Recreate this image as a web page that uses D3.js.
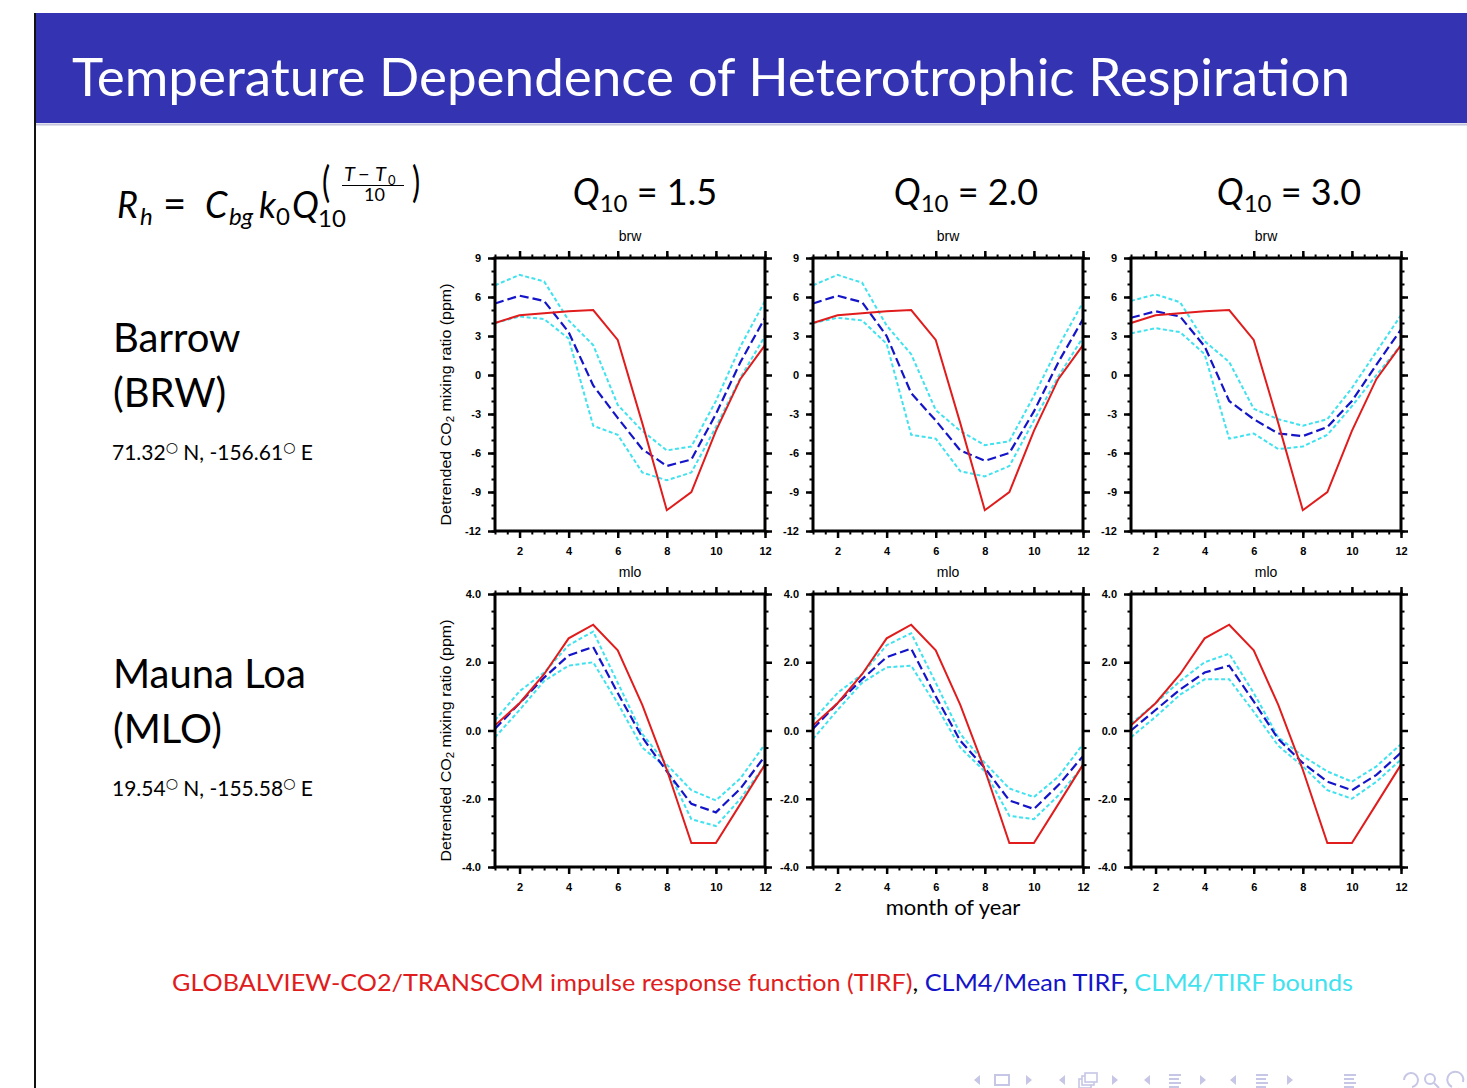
<!DOCTYPE html>
<html>
<head>
<meta charset="utf-8">
<script src="https://cdn.jsdelivr.net/npm/d3@7"></script>
<style>
  body { margin: 0; background: #fff; }
  svg { display: block; }
  .slide { font-family: Lato, "Open Sans", sans-serif; }
  .tick text { font-family: "Liberation Sans", Arial, sans-serif; font-weight: bold; font-size: 11px; fill: #000; }
</style>
</head>
<body>
<svg id="chart" width="1467" height="1088"></svg>
<script>
// months on the x axis
const months = [1, 2, 3, 4, 5, 6, 7, 8, 9, 10, 11, 12];
const q10Labels = ["1.5", "2.0", "3.0"];
const stationTitles = ["brw", "mlo"];

// Barrow: observed TIRF (same in every column) and CLM4 mean / bounds per Q10 column
const brwObs = [4.0, 4.6, 4.75, 4.9, 5.0, 2.7, -3.7, -10.4, -9.0, -4.3, -0.3, 2.3];
const brwMean = [
  [5.5, 6.1, 5.7, 3.3, -0.8, -3.3, -5.7, -7.0, -6.5, -3.0, 1.0, 4.4],
  [5.5, 6.1, 5.6, 3.0, -1.4, -3.5, -5.8, -6.6, -6.0, -2.8, 1.0, 4.3],
  [4.4, 4.9, 4.5, 2.2, -2.0, -3.4, -4.5, -4.7, -4.0, -2.0, 0.8, 3.5]
];
const brwUpper = [
  [6.9, 7.7, 7.2, 4.2, 2.3, -2.3, -4.3, -5.8, -5.5, -2.0, 2.2, 5.7],
  [6.9, 7.7, 7.1, 3.8, 1.6, -2.7, -4.3, -5.4, -5.1, -1.6, 2.2, 5.6],
  [5.7, 6.2, 5.6, 2.6, 1.0, -2.6, -3.4, -3.9, -3.4, -1.0, 1.8, 4.6]
];
const brwLower = [
  [4.0, 4.5, 4.3, 2.8, -3.9, -4.6, -7.5, -8.1, -7.5, -4.0, -0.2, 3.0],
  [4.0, 4.4, 4.2, 2.4, -4.6, -4.9, -7.4, -7.8, -7.0, -3.5, -0.1, 2.9],
  [3.2, 3.6, 3.3, 1.6, -4.9, -4.5, -5.7, -5.5, -4.6, -2.4, 0.0, 2.3]
];

// Mauna Loa
const mloObs = [0.15, 0.8, 1.65, 2.7, 3.1, 2.35, 0.75, -1.15, -3.3, -3.3, -2.15, -1.0];
const mloMean = [
  [0.05, 0.8, 1.55, 2.2, 2.45, 1.1, -0.2, -1.2, -2.15, -2.4, -1.7, -0.75],
  [0.05, 0.8, 1.5, 2.15, 2.4, 1.0, -0.3, -1.1, -2.05, -2.3, -1.6, -0.75],
  [0.0, 0.6, 1.2, 1.7, 1.9, 0.85, -0.25, -0.95, -1.5, -1.75, -1.3, -0.65]
];
const mloUpper = [
  [0.3, 1.15, 1.7, 2.5, 2.9, 1.4, -0.1, -1.0, -1.75, -2.05, -1.4, -0.4],
  [0.3, 1.1, 1.65, 2.5, 2.85, 1.4, -0.1, -0.95, -1.7, -1.95, -1.35, -0.4],
  [0.2, 0.8, 1.45, 2.0, 2.25, 1.1, -0.2, -0.75, -1.2, -1.5, -1.05, -0.4]
];
const mloLower = [
  [-0.2, 0.6, 1.45, 1.9, 2.0, 0.8, -0.5, -1.1, -2.6, -2.8, -2.0, -1.0],
  [-0.25, 0.6, 1.4, 1.85, 1.9, 0.75, -0.5, -1.2, -2.5, -2.6, -1.9, -1.05],
  [-0.2, 0.4, 1.05, 1.5, 1.5, 0.55, -0.45, -1.05, -1.75, -2.0, -1.5, -0.85]
];

// tick values
const xMajor = [2, 4, 6, 8, 10, 12];
const brwTicks = [9, 6, 3, 0, -3, -6, -9, -12];
const mloTicks = [4, 2, 0, -2, -4];

const colors = { obs: "#e01c1c", mean: "#1414c8", bounds: "#3fe2ee" };

// plain hyphen for negatives, like the original plots
const fmtInt = d => String(d);
const fmtOne = d => d.toFixed(1);

const svg = d3.select("#chart");

// ---- slide frame ----
svg.append("line").attr("x1", 35).attr("x2", 35).attr("y1", 13).attr("y2", 1088)
  .attr("stroke", "#111").attr("stroke-width", 2);
svg.append("rect").attr("x", 36).attr("y", 13).attr("width", 1431).attr("height", 110)
  .attr("fill", "#3434b2");
svg.append("line").attr("x1", 36).attr("x2", 1467).attr("y1", 124.5).attr("y2", 124.5)
  .attr("stroke", "#c4c4dc").attr("stroke-width", 2);

const slide = svg.append("g").attr("class", "slide");

slide.append("text").attr("x", 72).attr("y", 96)
  .attr("fill", "#fff").style("font-size", "52px")
  .attr("textLength", 1278).attr("lengthAdjust", "spacingAndGlyphs")
  .text("Temperature Dependence of Heterotrophic Respiration");

// ---- formula R_h = C_bg k_0 Q_10^((T-T0)/10) ----
const f = slide.append("g").attr("fill", "#000");
function piece(x, y, size, txt, italic) {
  return f.append("text").attr("x", x).attr("y", y).style("font-size", size + "px")
    .style("font-style", italic ? "italic" : "normal").text(txt);
}
piece(117, 218, 36, "R", true);
piece(140, 225, 24, "h", true);
piece(163, 218, 40, "=", false);
piece(205, 218, 36, "C", true);
piece(229, 225, 24, "bg", true);
piece(259, 218, 36, "k", true);
piece(276, 225, 24, "0", false);
piece(292, 218, 36, "Q", true);
piece(318, 227, 24, "10", false);
piece(322, 197, 36, "(", false).attr("transform", "translate(322,197) scale(0.85,1.2) translate(-322,-197)");
piece(344, 181, 20, "T", true);
piece(358, 181, 20, "\u2212", false);
piece(375, 181, 20, "T", true);
piece(388, 185, 13, "0", false);
f.append("line").attr("x1", 342).attr("x2", 404).attr("y1", 185.5).attr("y2", 185.5)
  .attr("stroke", "#000").attr("stroke-width", 1.2);
piece(364, 201, 18, "10", false);
piece(412, 197, 36, ")", false).attr("transform", "translate(412,197) scale(0.85,1.2) translate(-412,-197)");

// ---- column headers ----
const colCenters = [645, 966, 1289];
q10Labels.forEach((q, i) => {
  const t = slide.append("text").attr("x", colCenters[i]).attr("y", 205)
    .attr("text-anchor", "middle").style("font-size", "36px");
  t.append("tspan").style("font-style", "italic").text("Q");
  t.append("tspan").style("font-size", "24px").attr("dy", 7).text("10");
  t.append("tspan").attr("dy", -7).text(" = " + q);
});

// ---- station labels ----
function station(name, code, coord, y0) {
  slide.append("text").attr("x", 113).attr("y", y0).style("font-size", "40px").text(name);
  slide.append("text").attr("x", 113).attr("y", y0 + 55).style("font-size", "40px").text(code);
  const c = slide.append("text").attr("x", 112).attr("y", y0 + 108).style("font-size", "21px");
  c.append("tspan").text(coord[0]);
  c.append("tspan").attr("dy", -8).style("font-size", "14px").style("font-family", "DejaVu Sans").text("\u25CB");
  c.append("tspan").attr("dy", 8).text(" N, " + coord[1]);
  c.append("tspan").attr("dy", -8).style("font-size", "14px").style("font-family", "DejaVu Sans").text("\u25CB");
  c.append("tspan").attr("dy", 8).text(" E");
}
station("Barrow", "(BRW)", ["71.32", "-156.61"], 352);
station("Mauna Loa", "(MLO)", ["19.54", "-155.58"], 688);

// ---- panels ----
const panelW = 270, panelH = 273;
const panelLeft = [495, 813, 1131];
const panelTop = [258, 594];

function drawPanel(left, top, obs, mean, upper, lower, yDomain, yTicks, yMinor, fmt, title, yTitle) {
  const g = svg.append("g").attr("transform", `translate(${left},${top})`);
  const x = d3.scaleLinear().domain([1, 12]).range([0, panelW]);
  const y = d3.scaleLinear().domain(yDomain).range([panelH, 0]);
  const xMinor = d3.range(1, 12.01, 0.5);
  const yMinorVals = d3.range(yDomain[0], yDomain[1] + 1e-6, yMinor);

  const line = d3.line().x((d, i) => x(months[i])).y(d => y(d));

  // series
  [upper, lower].forEach(s => {
    g.append("path").attr("d", line(s)).attr("fill", "none")
      .attr("stroke", colors.bounds).attr("stroke-width", 2).attr("stroke-dasharray", "4,2.5");
  });
  g.append("path").attr("d", line(mean)).attr("fill", "none")
    .attr("stroke", colors.mean).attr("stroke-width", 2.2).attr("stroke-dasharray", "9,4");
  g.append("path").attr("d", line(obs)).attr("fill", "none")
    .attr("stroke", colors.obs).attr("stroke-width", 2);

  // axes on all four sides, outward ticks; labels only bottom and left
  const sides = [
    { mk: d3.axisBottom, sc: x, tr: `translate(0,${panelH})`, vals: xMajor, minor: xMinor, fmt: fmtInt, pad: 9 },
    { mk: d3.axisTop, sc: x, tr: "translate(0,0)", vals: xMajor, minor: xMinor, fmt: null, pad: 7 },
    { mk: d3.axisLeft, sc: y, tr: "translate(0,0)", vals: yTicks, minor: yMinorVals, fmt: fmt, pad: 7 },
    { mk: d3.axisRight, sc: y, tr: `translate(${panelW},0)`, vals: yTicks, minor: yMinorVals, fmt: null, pad: 7 }
  ];
  sides.forEach(s => {
    const minorG = g.append("g").attr("transform", s.tr)
      .call(s.mk(s.sc).tickValues(s.minor).tickSize(3.5).tickSizeOuter(0).tickFormat(""));
    minorG.select(".domain").remove();
    minorG.selectAll("line").attr("stroke-width", 2);
    const majorG = g.append("g").attr("transform", s.tr)
      .call(s.mk(s.sc).tickValues(s.vals).tickSize(7).tickSizeOuter(0).tickPadding(s.pad)
        .tickFormat(s.fmt || (() => "")));
    majorG.select(".domain").remove();
    majorG.selectAll("line").attr("stroke-width", 2.5);
  });

  g.append("rect").attr("width", panelW).attr("height", panelH)
    .attr("fill", "none").attr("stroke", "#000").attr("stroke-width", 3);

  g.append("text").attr("x", panelW / 2).attr("y", -17).attr("text-anchor", "middle")
    .style("font-family", "Liberation Sans, Arial, sans-serif").style("font-size", "14px")
    .text(title);

  if (yTitle) {
    const t = g.append("text")
      .attr("transform", `translate(-44,${panelH / 2 + 10}) rotate(-90)`)
      .attr("text-anchor", "middle")
      .attr("textLength", 242).attr("lengthAdjust", "spacingAndGlyphs")
      .style("font-family", "Liberation Sans, Arial, sans-serif").style("font-size", "14px");
    t.append("tspan").text("Detrended CO");
    t.append("tspan").attr("dy", 3).style("font-size", "10px").text("2");
    t.append("tspan").attr("dy", -3).text(" mixing ratio (ppm)");
  }
}

for (let c = 0; c < 3; c++) {
  drawPanel(panelLeft[c], panelTop[0], brwObs, brwMean[c], brwUpper[c], brwLower[c],
    [-12, 9], brwTicks, 1, fmtInt, stationTitles[0], c === 0);
  drawPanel(panelLeft[c], panelTop[1], mloObs, mloMean[c], mloUpper[c], mloLower[c],
    [-4, 4], mloTicks, 0.5, fmtOne, stationTitles[1], c === 0);
}

// ---- x title and legend ----
slide.append("text").attr("x", 953).attr("y", 915).attr("text-anchor", "middle")
  .style("font-size", "22px").text("month of year");

const leg = slide.append("text").attr("x", 172).attr("y", 991).style("font-size", "23px")
  .attr("textLength", 1181).attr("lengthAdjust", "spacingAndGlyphs");
leg.append("tspan").attr("fill", colors.obs).text("GLOBALVIEW-CO2/TRANSCOM impulse response function (TIRF)");
leg.append("tspan").attr("fill", "#000").text(", ");
leg.append("tspan").attr("fill", colors.mean).text("CLM4/Mean TIRF");
leg.append("tspan").attr("fill", "#000").text(", ");
leg.append("tspan").attr("fill", colors.bounds).text("CLM4/TIRF bounds");

// ---- beamer navigation symbols ----
const nav = svg.append("g").attr("fill", "#c6c6e6").attr("stroke", "#c6c6e6");
function tri(cx, dir) {
  nav.append("path").attr("stroke", "none")
    .attr("d", dir < 0 ? `M${cx + 3},1075 L${cx - 3},1080 L${cx + 3},1085 Z` : `M${cx - 3},1075 L${cx + 3},1080 L${cx - 3},1085 Z`);
}
function bars(cx) {
  [1075, 1079, 1083, 1087].forEach((yy, i) => nav.append("line").attr("stroke-width", 2)
    .attr("x1", cx - 6).attr("x2", cx + (i % 2 ? 4 : 6)).attr("y1", yy).attr("y2", yy));
}
tri(977, -1); nav.append("rect").attr("x", 995).attr("y", 1075).attr("width", 14).attr("height", 10)
  .attr("fill", "none").attr("stroke-width", 2); tri(1029, 1);
tri(1062, -1);
[0, 3, 6].forEach(o => nav.append("rect").attr("x", 1079 + o).attr("y", 1079 - o).attr("width", 12).attr("height", 9)
  .attr("fill", "#fff").attr("stroke-width", 1.6));
tri(1115, 1);
tri(1147, -1); bars(1175); tri(1203, 1);
tri(1233, -1); bars(1262); tri(1290, 1);
bars(1350);
nav.append("path").attr("fill", "none").attr("stroke-width", 2)
  .attr("d", "M1404,1080 A7,7 0 1 1 1412,1087");
nav.append("circle").attr("cx", 1430).attr("cy", 1079).attr("r", 5).attr("fill", "none").attr("stroke-width", 2);
nav.append("line").attr("x1", 1434).attr("y1", 1083).attr("x2", 1439).attr("y2", 1088).attr("stroke-width", 2);
nav.append("path").attr("fill", "none").attr("stroke-width", 2)
  .attr("d", "M1463,1082 A8,8 0 1 0 1452,1087");
</script>
</body>
</html>
